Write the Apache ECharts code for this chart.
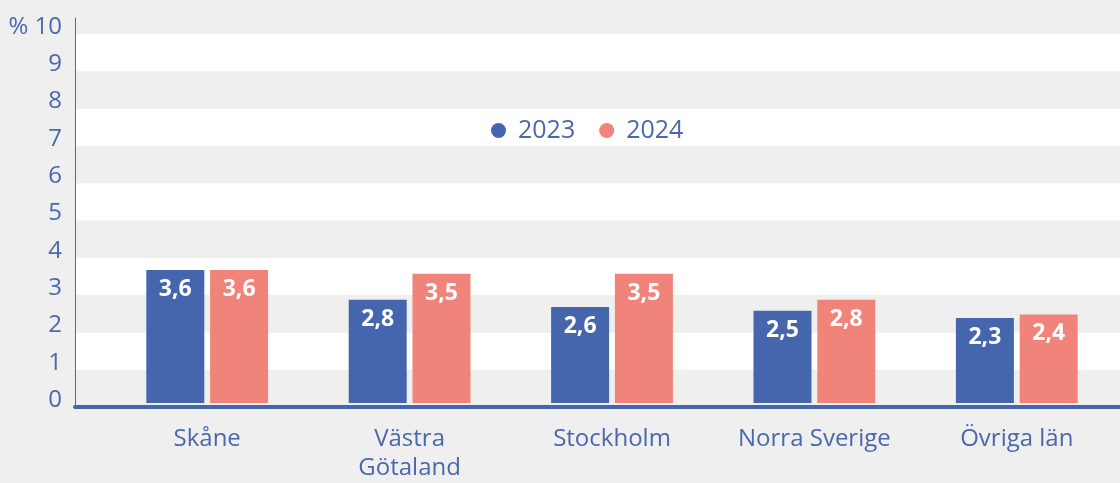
<!DOCTYPE html>
<html>
<head>
<meta charset="utf-8">
<script src="https://cdn.jsdelivr.net/npm/echarts@6/dist/echarts.min.js"></script>
<style>
  html, body { margin: 0; padding: 0; background: #efefef; }
  #chart { width: 1120px; height: 483px; }
</style>
</head>
<body>
<div id="chart"></div>
<script>
// data
const regions = ['Skåne', 'Västra\nGötaland', 'Stockholm', 'Norra Sverige', 'Övriga län'];
const values2023 = [3.6, 2.8, 2.6, 2.5, 2.3];
const values2024 = [3.6, 3.5, 3.5, 2.8, 2.4];
const seriesNames = ['2023', '2024'];
const yTop = 10;       // last labelled tick
const yStep = 1;
const yUnit = '%';

const blue = '#4565ad';
const red = '#f0837a';
const textBlue = '#4a68ae';
const font = '"Open Sans", sans-serif';

// scale a bit above 10 so the axis line reaches above the last band
const yMax = 10.43;

const chart = echarts.init(document.getElementById('chart'));

const fmtComma = p => String(p.value).replace('.', ',');

const valueLabel = {
    show: true,
    position: 'insideTop',
    distance: 8,
    color: '#ffffff',
    fontWeight: 'bold',
    fontSize: 23,
    fontFamily: font,
    formatter: fmtComma
};

chart.setOption({
    backgroundColor: '#efefef',
    animation: false,
    textStyle: { fontFamily: font },
    legend: {
        data: seriesNames,
        left: 486,
        top: 113,
        icon: 'circle',
        itemWidth: 15,
        itemHeight: 15,
        itemGap: 24,
        textStyle: { color: textBlue, fontSize: 25, fontFamily: font, padding: [0, 0, 0, 7] }
    },
    grid: [
        // background grid: bands, y axis and baseline
        { left: 75, right: 0, top: 18, bottom: 76 },
        // bars and category labels
        { left: 106, right: 2, top: 18, bottom: 76 }
    ],
    xAxis: [
        {
            gridIndex: 0,
            type: 'category',
            data: [''],
            z: 5,
            axisLine: { lineStyle: { color: blue, width: 4 } },
            axisTick: { show: false },
            axisLabel: { show: false }
        },
        {
            gridIndex: 1,
            type: 'category',
            data: regions,
            axisLine: { show: false },
            axisTick: { show: false },
            axisLabel: {
                interval: 0,
                hideOverlap: false,
                color: textBlue,
                fontSize: 24,
                fontFamily: font,
                margin: 22,
                lineHeight: 29
            }
        }
    ],
    yAxis: [
        {
            gridIndex: 0,
            type: 'value',
            min: 0,
            max: yMax,
            interval: yStep,
            axisLine: { show: true, lineStyle: { color: blue, width: 1 } },
            axisTick: { show: false },
            splitLine: { show: false },
            splitArea: { show: true, areaStyle: { color: ['#efefef', '#ffffff'] } },
            axisLabel: {
                color: textBlue,
                fontSize: 24,
                fontFamily: font,
                margin: 13,
                verticalAlign: 'bottom',
                lineHeight: 14,
                formatter: v => {
                    if (Math.abs(v - Math.round(v)) > 1e-6) return '';
                    return v === yTop ? yUnit + ' ' + v : String(v);
                }
            }
        },
        {
            gridIndex: 1,
            type: 'value',
            min: 0,
            max: yMax,
            show: false,
            splitLine: { show: false }
        }
    ],
    series: [
        {
            name: seriesNames[0],
            type: 'bar',
            xAxisIndex: 1,
            yAxisIndex: 1,
            data: values2023,
            barWidth: 58,
            barGap: '10%',
            itemStyle: { color: blue },
            label: valueLabel
        },
        {
            name: seriesNames[1],
            type: 'bar',
            xAxisIndex: 1,
            yAxisIndex: 1,
            data: values2024,
            barWidth: 58,
            barGap: '10%',
            itemStyle: { color: red },
            label: valueLabel
        }
    ]
});
</script>
</body>
</html>
